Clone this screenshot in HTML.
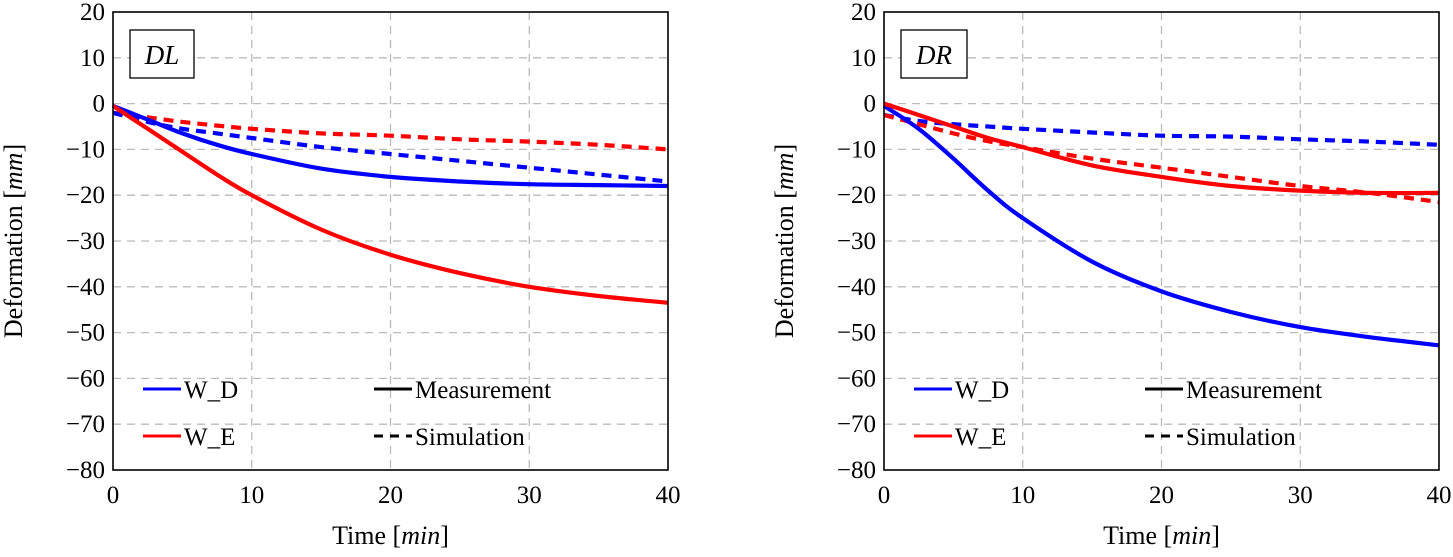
<!DOCTYPE html>
<html><head><meta charset="utf-8"><style>
body{margin:0;background:#fff}
svg{font-family:"Liberation Serif",serif}
</style></head><body>
<svg id="c" width="1453" height="552" xmlns="http://www.w3.org/2000/svg"></svg>
<script>
const times=[0,2.5,5,7.5,10,15,20,25,30,35,40];
const dlWDMeas=[-0.5,-3.5,-6.5,-9,-11,-14.2,-16,-17,-17.6,-17.8,-18];
const dlWDSim=[-2,-4,-5.5,-6.5,-7.5,-9.5,-11,-12.5,-14,-15.5,-17];
const dlWEMeas=[-0.5,-5.5,-10.5,-15.5,-20,-27.5,-33,-37,-40,-42,-43.5];
const dlWESim=[-2,-3,-4,-4.8,-5.5,-6.5,-7,-7.8,-8.3,-9,-10];
const drWDMeas=[-0.5,-5.5,-12,-19,-25,-34.5,-41,-45.5,-48.8,-51,-52.8];
const drWDSim=[-2.5,-3.8,-4.5,-5,-5.5,-6.3,-7,-7.2,-7.8,-8.3,-9];
const drWEMeas=[0,-2.5,-5,-7.5,-9.5,-13.5,-16,-18,-19,-19.5,-19.5];
const drWESim=[-2.5,-4.5,-6.5,-8.2,-9.5,-12,-14,-16,-18,-19.5,-21.5];
const xTicks=[0,10,20,30,40];
const yTicks=[20,10,0,-10,-20,-30,-40,-50,-60,-70,-80];
const NS="http://www.w3.org/2000/svg";
const svg=document.getElementById('c');
function el(t,a,p){const e=document.createElementNS(NS,t);for(const k in a)e.setAttribute(k,a[k]);(p||svg).appendChild(e);return e;}
function smooth(pts){
  let d='M'+pts[0][0].toFixed(1)+' '+pts[0][1].toFixed(1);
  for(let i=0;i<pts.length-1;i++){
    const p0=pts[Math.max(0,i-1)],p1=pts[i],p2=pts[i+1],p3=pts[Math.min(pts.length-1,i+2)];
    const c1=[p1[0]+(p2[0]-p0[0])/6,p1[1]+(p2[1]-p0[1])/6],c2=[p2[0]-(p3[0]-p1[0])/6,p2[1]-(p3[1]-p1[1])/6];
    d+=` C${c1[0].toFixed(1)} ${c1[1].toFixed(1)} ${c2[0].toFixed(1)} ${c2[1].toFixed(1)} ${p2[0].toFixed(1)} ${p2[1].toFixed(1)}`;
  }
  return d;
}
function panel(ox,title,series,pname){
  const g=el('g',{});
  
  
  const X0=ox,X1=ox+555,Y0=12,Y1=470;
  const sx=v=>X0+(v-0)/40*(X1-X0), sy=v=>Y0+(20-v)/100*(Y1-Y0);
  xTicks.forEach(t=>{
    if(t>0&&t<40){const l=el('line',{x1:sx(t),x2:sx(t),y1:Y0,y2:Y1,stroke:'#bbb','stroke-dasharray':'8 6','stroke-width':1.3},g);
    }
    const tx=el('text',{x:sx(t),y:Y1+33,'font-size':25,'text-anchor':'middle'},g);tx.textContent=t;
    
  });
  yTicks.forEach(t=>{
    if(t<20&&t>-80){const l=el('line',{x1:X0,x2:X1,y1:sy(t),y2:sy(t),stroke:'#bbb','stroke-dasharray':'8 6','stroke-width':1.3},g);
    }
    const tx=el('text',{x:X0-8,y:sy(t)+8,'font-size':25,'text-anchor':'end'},g);tx.textContent=(t<0?'−'+(-t):t);
    
  });
  series.forEach(s=>{
    const d=smooth(times.map((t,i)=>[sx(t),sy(s.v[i])]));
    const p=el('path',{d:d,fill:'none',stroke:s.c,'stroke-width':4.2,'stroke-dasharray':s.dash?'10 7':'none'},g);
    
  });
  const fr=el('rect',{x:X0,y:Y0,width:X1-X0,height:Y1-Y0,fill:'none',stroke:'#000','stroke-width':1.6},g);
  
  const tb=el('rect',{x:X0+17,y:30,width:title=='DL'?64:66,height:48,fill:'#fff',stroke:'#000','stroke-width':1.3},g);
  
  const tt=el('text',{x:X0+17+(title=='DL'?32:33),y:64,'font-size':27,'font-style':'italic','text-anchor':'middle'},g);tt.textContent=title;
  
  const leg=[[30,389,'#00f','none','W_D'],[30,436,'#f00','none','W_E'],[261,389,'#000','none','Measurement'],[261,436,'#000','9 7','Simulation']];
  leg.forEach(l=>{
    const ln=el('line',{x1:X0+l[0],x2:X0+l[0]+38,y1:l[1],y2:l[1],stroke:l[2],'stroke-width':3,'stroke-dasharray':l[3]},g);
    
    const tx=el('text',{x:X0+l[0]+41,y:l[1]+9,'font-size':25},g);tx.textContent=l[4];
    
  });
  const xl=el('text',{x:(X0+X1)/2,y:544,'font-size':26,'text-anchor':'middle'},g);
  xl.innerHTML='Time [<tspan font-style="italic">min</tspan>]';
  
  const yl=el('text',{x:0,y:0,'font-size':26,'text-anchor':'middle',transform:`translate(${X0-91},241) rotate(-90)`},g);
  yl.innerHTML='Deformation [<tspan font-style="italic">mm</tspan>]';
  
}
panel(113,'DL',[
 {v:dlWESim,c:'#f00',dash:1,n:'dl-we-simulation'},{v:dlWDSim,c:'#00f',dash:1,n:'dl-wd-simulation'},
 {v:dlWDMeas,c:'#00f',n:'dl-wd-measurement'},{v:dlWEMeas,c:'#f00',n:'dl-we-measurement'}],'panel-dl');
panel(884,'DR',[
 {v:drWDSim,c:'#00f',dash:1,n:'dr-wd-simulation'},{v:drWESim,c:'#f00',dash:1,n:'dr-we-simulation'},
 {v:drWDMeas,c:'#00f',n:'dr-wd-measurement'},{v:drWEMeas,c:'#f00',n:'dr-we-measurement'}],'panel-dr');
</script>
</body></html>
